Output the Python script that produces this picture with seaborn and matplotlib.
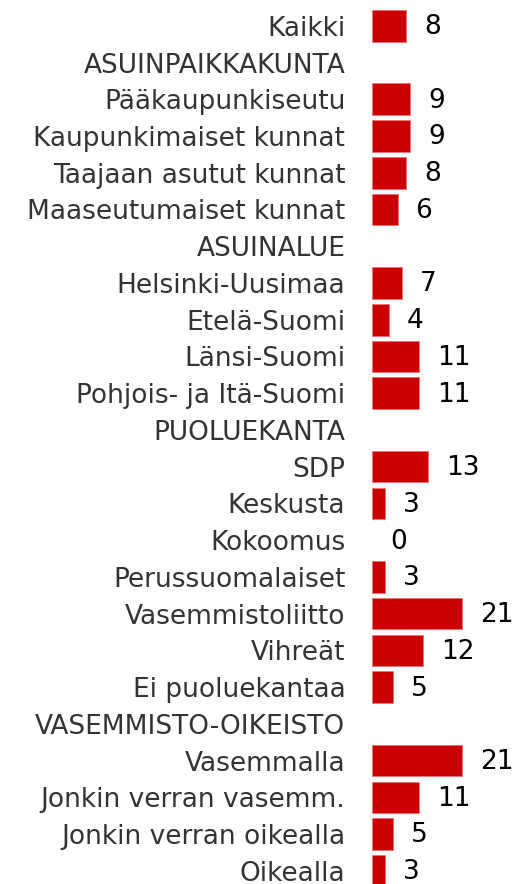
import matplotlib
matplotlib.use("Agg")
import matplotlib.pyplot as plt
import numpy as np
import pandas as pd
import seaborn as sns

labels = [
    "Kaikki", "ASUINPAIKKAKUNTA",
    "Pääkaupunkiseutu", "Kaupunkimaiset kunnat", "Taajaan asutut kunnat",
    "Maaseutumaiset kunnat", "ASUINALUE",
    "Helsinki-Uusimaa", "Etelä-Suomi", "Länsi-Suomi", "Pohjois- ja Itä-Suomi",
    "PUOLUEKANTA",
    "SDP", "Keskusta", "Kokoomus", "Perussuomalaiset", "Vasemmistoliitto",
    "Vihreät", "Ei puoluekantaa", "VASEMMISTO-OIKEISTO",
    "Vasemmalla", "Jonkin verran vasemm.", "Jonkin verran oikealla", "Oikealla",
]
values = [
    8, np.nan,
    9, 9, 8, 6, np.nan,
    7, 4, 11, 11, np.nan,
    13, 3, 0, 3, 21, 12, 5, np.nan,
    21, 11, 5, 3,
]

df = pd.DataFrame({"label": labels, "value": values})

sns.set_style("white")
plt.rcParams['font.family'] = ['DejaVu Sans']

fig = plt.figure(figsize=(5.15, 8.84), dpi=100)
# row pitch ~36.74 px, first row centre at y=25.8 px
ax = fig.add_axes([371.7 / 515, 1 - 889.2 / 884, 107.5 / 515, 881.8 / 884])

sns.barplot(data=df, x="value", y="label", order=labels, orient="h",
            color="#cc0000", saturation=1, width=0.86, ax=ax,
            edgecolor="#e57373", linewidth=0.6)

for p in ax.patches:
    if p.get_width() == 0:
        p.set_linewidth(0)

ax.set_xlim(0, 25)
ax.set_ylim(len(labels) - 0.5, -0.5)
ax.set_xlabel("")
ax.set_ylabel("")
ax.set_xticks([])
ax.tick_params(axis="y", length=0, pad=19, labelsize=19, labelcolor="#333333")
sns.despine(ax=ax, left=True, bottom=True)

for i, v in enumerate(values):
    if not np.isnan(v):
        ax.annotate(f"{int(v)}", xy=(v, i), xytext=(13, -1),
                    textcoords="offset points", va="center", ha="left",
                    fontsize=19, color="black")

fig.savefig("out.png", dpi=100)
